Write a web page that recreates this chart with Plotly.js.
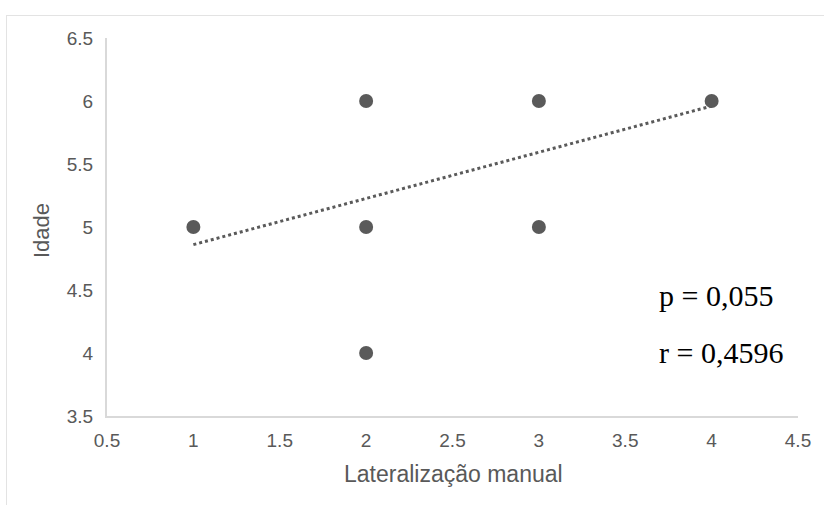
<!DOCTYPE html>
<html>
<head>
<meta charset="utf-8">
<script src="https://cdn.plot.ly/plotly-3.0.1.min.js"></script>
<style>
html,body{margin:0;padding:0;background:#fff;overflow:hidden;}
#frame{position:absolute;left:6px;top:15px;width:840px;height:520px;border:1px solid #e3e3e3;box-sizing:border-box;}
#chart{position:absolute;left:0;top:0;width:824px;height:505px;}
</style>
</head>
<body>
<div id="frame"></div>
<div id="chart"></div>
<script>
const lateralizacao = [1, 2, 2, 2, 3, 3, 4];
const idade = [5, 6, 5, 4, 6, 5, 6];
const trendX = [1, 4];
const trendY = [4.86, 5.96];
const xTicks = [0.5, 1, 1.5, 2, 2.5, 3, 3.5, 4, 4.5];
const yTicks = [3.5, 4, 4.5, 5, 5.5, 6, 6.5];
const xTitle = 'Lateralização manual';
const yTitle = 'Idade';
const statsText = ["p = 0,055", "r = 0,4596"];

const traces = [
  {x: lateralizacao, y: idade, mode: 'markers', type: 'scatter',
   marker: {color: '#5a5a5a', size: 14}, hoverinfo: 'skip'},
  {x: trendX, y: trendY, mode: 'lines', type: 'scatter',
   line: {color: '#5a5a5a', width: 3, dash: 'dot'}, hoverinfo: 'skip'}
];

const M = {l: 107, r: 26, t: 38, b: 89};
const plotW = 824 - M.l - M.r, plotH = 505 - M.t - M.b;
const px = v => (v - M.l) / plotW;
const py = v => (505 - M.b - v) / plotH;

const statsY = [295, 352];
const annotations = statsText.map((t, i) => ({
  x: px(657), y: py(statsY[i]),
  xref: 'paper', yref: 'paper', xanchor: 'left', yanchor: 'middle', showarrow: false,
  text: t,
  font: {family: 'Liberation Serif, Times New Roman, serif', size: 30, color: '#000'}
}));
annotations.push({
  x: px(453), y: py(474), xref: 'paper', yref: 'paper', xanchor: 'center', yanchor: 'middle',
  showarrow: false, text: xTitle, font: {size: 23, color: '#595959'}
});
annotations.push({
  x: px(41), y: py(231), xref: 'paper', yref: 'paper', xanchor: 'center', yanchor: 'middle',
  showarrow: false, textangle: -90, text: yTitle, font: {size: 22, color: '#595959'}
});

const layout = {
  width: 824, height: 505,
  margin: M,
  paper_bgcolor: 'rgba(0,0,0,0)', plot_bgcolor: 'rgba(0,0,0,0)',
  showlegend: false,
  font: {family: 'Liberation Sans, Arial, sans-serif', color: '#595959', size: 19},
  xaxis: {range: [0.5, 4.5], tickvals: xTicks, ticktext: xTicks.map(String),
    showgrid: false, zeroline: false, showline: true, linecolor: '#d9d9d9', linewidth: 2,
    ticks: '', ticklen: 0, ticklabelstandoff: 6, tickfont: {size: 19, color: '#595959'}},
  yaxis: {range: [3.5, 6.5], tickvals: yTicks, ticktext: yTicks.map(String),
    showgrid: false, zeroline: false, showline: true, linecolor: '#d9d9d9', linewidth: 2,
    ticks: '', ticklen: 0, ticklabelstandoff: 8, tickfont: {size: 19, color: '#595959'}},
  annotations: annotations
};

Plotly.newPlot('chart', traces, layout, {staticPlot: true, displayModeBar: false});
</script>
</body>
</html>
